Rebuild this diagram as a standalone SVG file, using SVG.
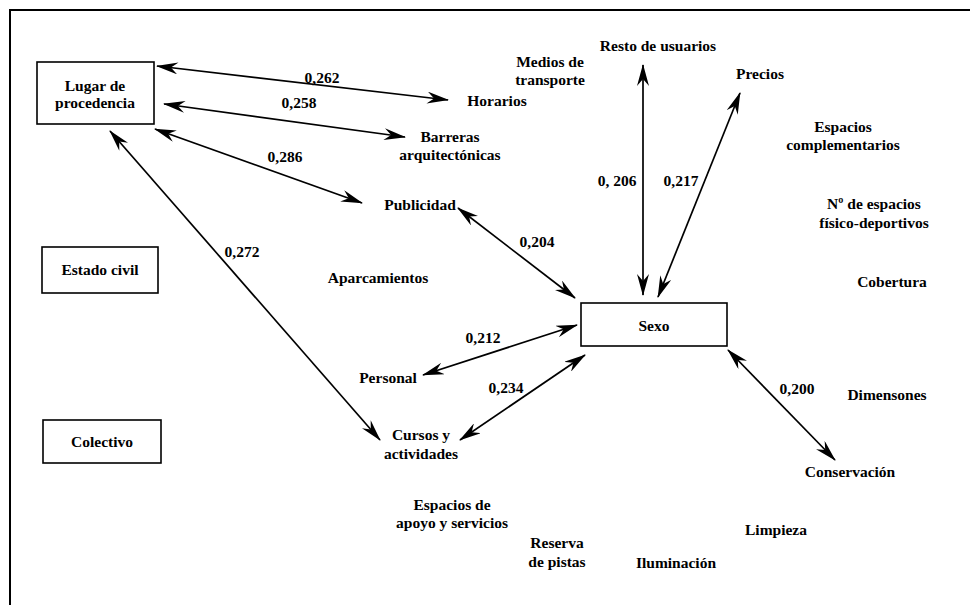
<svg xmlns="http://www.w3.org/2000/svg" width="970" height="605" viewBox="0 0 970 605">
<style>
text{font-family:"Liberation Serif","Times New Roman",serif;font-weight:bold;font-size:15.5px;fill:#000;text-anchor:middle}
.box{fill:#fff;stroke:#000;stroke-width:1.6}
.ln{stroke:#000;stroke-width:1.7;fill:none;marker-start:url(#ah);marker-end:url(#ah)}
</style>
<defs>
<marker id="ah" viewBox="0 0 22 12" refX="21" refY="6" markerWidth="22" markerHeight="12" markerUnits="userSpaceOnUse" orient="auto-start-reverse">
<path d="M0,0 L22,6 L0,12 L7,6 z" fill="#000"/>
</marker>
</defs>
<rect width="970" height="605" fill="#fff"/>
<path d="M10,605 L10,10 L970,10" fill="none" stroke="#000" stroke-width="2"/>

<g id="connectors">
<line class="ln" x1="157" y1="66" x2="448" y2="100"/>
<line class="ln" x1="164" y1="104" x2="405" y2="137"/>
<line class="ln" x1="155" y1="129" x2="362" y2="203"/>
<line class="ln" x1="110" y1="131" x2="380" y2="440"/>
<line class="ln" x1="458" y1="208" x2="575" y2="298"/>
<line class="ln" x1="423" y1="375" x2="577" y2="325"/>
<line class="ln" x1="460" y1="440" x2="585" y2="355"/>
<line class="ln" x1="643" y1="65" x2="643" y2="295"/>
<line class="ln" x1="740" y1="93" x2="658" y2="297"/>
<line class="ln" x1="728" y1="350" x2="835" y2="460"/>
<text x="322" y="83">0,262</text>
<text x="299" y="108">0,258</text>
<text x="285" y="162">0,286</text>
<text x="242" y="257">0,272</text>
<text x="537" y="247">0,204</text>
<text x="483" y="343">0,212</text>
<text x="506" y="393">0,234</text>
<text x="617" y="186">0, 206</text>
<text x="681" y="186">0,217</text>
<text x="797" y="394">0,200</text>
</g>

<g id="lugar"><rect class="box" x="37" y="62" width="117" height="62"/><text x="95" y="91">Lugar de</text><text x="95" y="108">procedencia</text></g>
<g id="estado"><rect class="box" x="42" y="247" width="116" height="46"/><text x="100" y="275">Estado civil</text></g>
<g id="colectivo"><rect class="box" x="43" y="420" width="118" height="43"/><text x="102" y="447">Colectivo</text></g>
<g id="sexo"><rect class="box" x="581" y="303" width="146" height="43"/><text x="654" y="331">Sexo</text></g>

<g id="horarios"><text x="497" y="106">Horarios</text></g>
<g id="barreras"><text x="450" y="142">Barreras</text><text x="450" y="160">arquitectónicas</text></g>
<g id="medios"><text x="550" y="67">Medios de</text><text x="550" y="85">transporte</text></g>
<g id="resto"><text x="658" y="51">Resto de usuarios</text></g>
<g id="precios"><text x="760" y="79">Precios</text></g>
<g id="complementarios"><text x="843" y="132">Espacios</text><text x="843" y="150">complementarios</text></g>
<g id="nespacios"><text x="874" y="209">Nº de espacios</text><text x="874" y="228">físico-deportivos</text></g>
<g id="publicidad"><text x="420" y="210">Publicidad</text></g>
<g id="aparcamientos"><text x="378" y="283">Aparcamientos</text></g>
<g id="personal"><text x="388" y="383">Personal</text></g>
<g id="cursos"><text x="421" y="440">Cursos y</text><text x="421" y="459">actividades</text></g>
<g id="cobertura"><text x="892" y="287">Cobertura</text></g>
<g id="dimensones"><text x="887" y="400">Dimensones</text></g>
<g id="conservacion"><text x="850" y="477">Conservación</text></g>
<g id="apoyo"><text x="452" y="510">Espacios de</text><text x="452" y="528">apoyo y servicios</text></g>
<g id="reserva"><text x="557" y="548">Reserva</text><text x="557" y="567">de pistas</text></g>
<g id="iluminacion"><text x="676" y="568">Iluminación</text></g>
<g id="limpieza"><text x="776" y="535">Limpieza</text></g>
</svg>
